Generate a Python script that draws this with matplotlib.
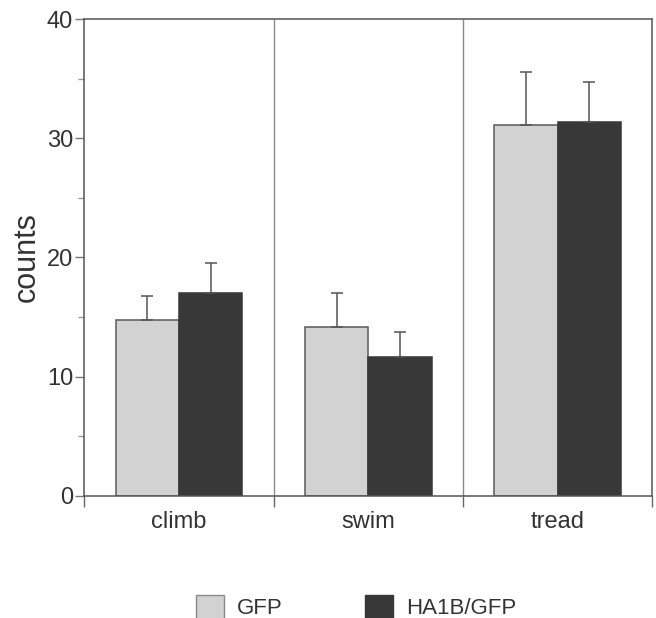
import numpy as np
import matplotlib.pyplot as plt
from matplotlib.patches import Patch

plt.rcParams['font.family'] = ['Liberation Sans', 'DejaVu Sans']

categories = ['climb', 'swim', 'tread']
gfp = [14.75, 14.15, 31.1]
gfp_err = [2.05, 2.9, 4.5]
ha1b = [17.05, 11.6, 31.4]
ha1b_err = [2.45, 2.1, 3.35]
series_names = ['GFP', 'HA1B/GFP']

fig = plt.figure(figsize=(6.56, 6.18), dpi=100)
ax = fig.add_axes([0.1285, 0.198, 0.866, 0.771])

x = np.arange(len(categories))
w = 0.335
err_kw = dict(ecolor='#555555', elinewidth=1.1, capsize=4.5, capthick=1.1)

ax.bar(x - w / 2, gfp, w, color='#d2d2d2', edgecolor='#5a5a5a', linewidth=1.1,
       yerr=[np.zeros(3), gfp_err], error_kw=err_kw, zorder=2)
ax.bar(x + w / 2, ha1b, w, color='#383838', edgecolor='#383838', linewidth=1.1,
       yerr=[np.zeros(3), ha1b_err], error_kw=err_kw, zorder=2)

# separators between groups
for b in [0.5, 1.5]:
    ax.axvline(b, color='#8a8a8a', linewidth=1.0, zorder=1)

ax.set_xlim(-0.5, 2.5)
ax.set_ylim(0, 40)

ax.set_xticks([-0.5, 0.5, 1.5, 2.5])
ax.set_xticklabels([])
ax.set_xticks(x, minor=True)
ax.set_xticklabels(categories, minor=True)
ax.tick_params(axis='x', which='major', length=8, color='#666666', width=1)
ax.tick_params(axis='x', which='minor', length=0, pad=11, labelsize=17, labelcolor='#333333')

ax.set_yticks([0, 10, 20, 30, 40])
ax.set_yticks([5, 15, 25, 35], minor=True)
ax.tick_params(axis='y', which='major', length=6.5, color='#777777', width=1,
               labelsize=17, labelcolor='#333333', pad=1.5)
ax.tick_params(axis='y', which='minor', length=4, color='#999999', width=1)

for s in ax.spines.values():
    s.set_color('#555555')
    s.set_linewidth(1.1)

ax.set_ylabel('counts', fontsize=22, color='#333333')
ax.yaxis.set_label_coords(-0.075, 0.5)

handles = [Patch(facecolor='#d2d2d2', edgecolor='#8a8a8a', linewidth=1),
           Patch(facecolor='#383838', edgecolor='#383838', linewidth=1)]
fig.legend(handles, series_names, loc='center', bbox_to_anchor=(356 / 656, 1 - 607 / 618),
           ncol=2, frameon=False, fontsize=16, handlelength=1.26, handleheight=1.26,
           handletextpad=0.59, columnspacing=3.7, labelcolor='#333333',
           borderaxespad=0, borderpad=0)

fig.savefig('out.png', dpi=100)
